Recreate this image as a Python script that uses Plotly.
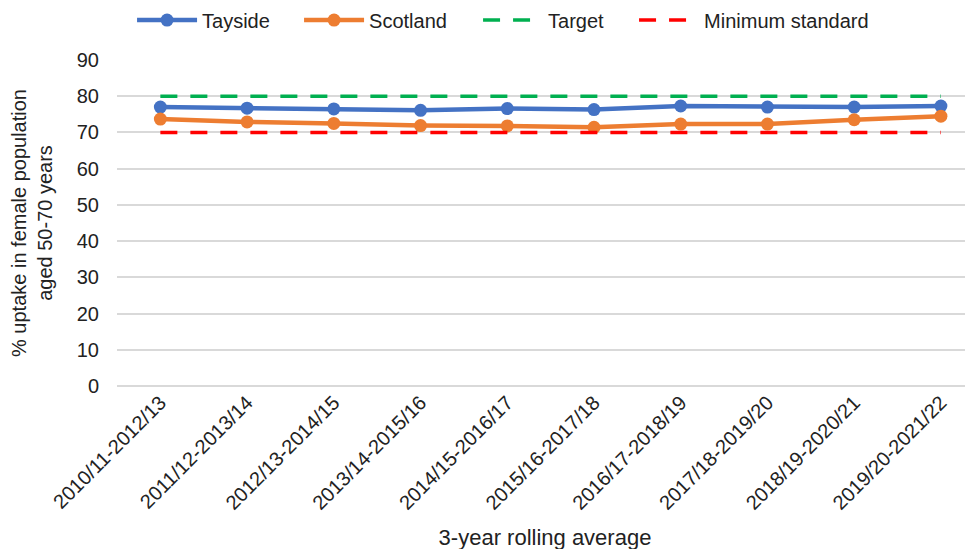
import plotly.graph_objects as go

categories = ["2010/11-2012/13", "2011/12-2013/14", "2012/13-2014/15", "2013/14-2015/16",
              "2014/15-2016/17", "2015/16-2017/18", "2016/17-2018/19", "2017/18-2019/20",
              "2018/19-2020/21", "2019/20-2021/22"]
tayside = [77.0, 76.7, 76.5, 76.1, 76.6, 76.3, 77.3, 77.0, 77.0, 77.3]
scotland = [73.7, 72.9, 72.5, 71.9, 71.8, 71.4, 72.3, 72.3, 73.5, 74.5]
target = [80] * 10
minimum = [70] * 10
y_ticks = [0, 10, 20, 30, 40, 50, 60, 70, 80, 90]

font = "Liberation Sans, Arial, sans-serif"
fig = go.Figure()
fig.add_trace(go.Scatter(x=categories, y=tayside, name="Tayside", mode="lines+markers",
                         legendwidth=92,
                         line=dict(color="#4472C4", width=4.5), marker=dict(size=13, color="#4472C4")))
fig.add_trace(go.Scatter(x=categories, y=scotland, name="Scotland", mode="lines+markers",
                         legendwidth=104,
                         line=dict(color="#ED7D31", width=4.5), marker=dict(size=13, color="#ED7D31")))
fig.add_trace(go.Scatter(x=categories, y=target, name="Target", mode="lines",
                         legendwidth=81,
                         line=dict(color="#00B050", width=3.5, dash="17px,13px")))
fig.add_trace(go.Scatter(x=categories, y=minimum, name="Minimum standard", mode="lines",
                         line=dict(color="#FF0000", width=3.5, dash="17px,13px")))

# the page body adds an 8px offset; margins compensate so the plot lands where the reference has it
fig.update_layout(
    width=973, height=549,
    margin=dict(l=109, r=8, t=52, b=171),
    paper_bgcolor="white", plot_bgcolor="white",
    font=dict(family=font, size=20, color="#222"),
    showlegend=True,
    legend=dict(orientation="h", xref="container", yref="container",
                x=0.1275, xanchor="left", y=0.978, yanchor="middle",
                font=dict(size=20), itemwidth=60, traceorder="normal"),
)
fig.update_xaxes(range=[-0.5, 9.37], tickangle=-45, showgrid=False, showline=False,
                 tickfont=dict(size=20), ticks="", automargin=False,
                 title=dict(text="3-year rolling average", font=dict(size=22), standoff=16))
fig.update_yaxes(range=[0, 90], tickvals=y_ticks, showgrid=True, gridcolor="#D9D9D9",
                 gridwidth=1.5, zeroline=True, zerolinecolor="#D9D9D9", zerolinewidth=1.5,
                 tickfont=dict(size=20), ticks="", ticklabelstandoff=17, automargin=False,
                 title=dict(text="% uptake in female population<br>aged 50-70 years",
                            font=dict(size=20), standoff=18))
fig.write_html("out.html")
